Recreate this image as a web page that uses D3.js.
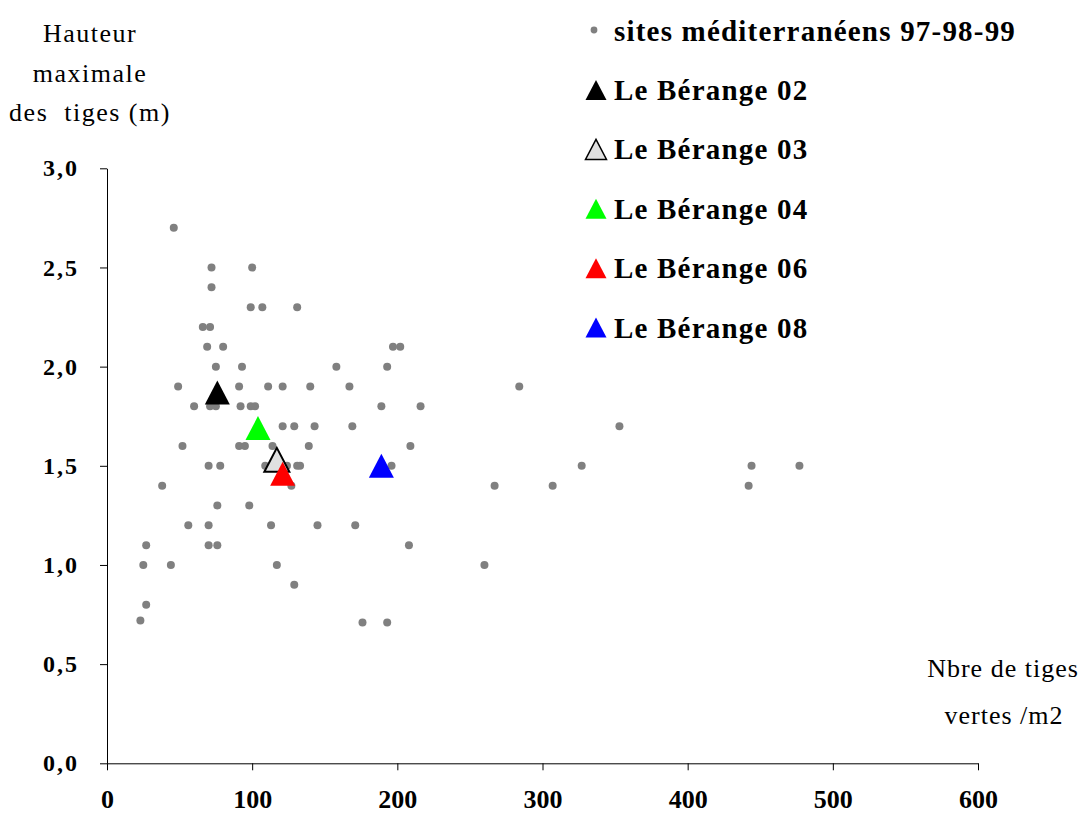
<!DOCTYPE html>
<html>
<head>
<meta charset="utf-8">
<script src="https://cdn.jsdelivr.net/npm/d3@7"></script>
<style>
  body { margin: 0; background: #fff; }
  svg { display: block; font-family: "Liberation Serif", "Times New Roman", serif; }
</style>
</head>
<body>
<svg id="chart" width="1084" height="815"></svg>
<script>
// Mediterranean sites 97-98-99 (stems/m2, max height m)
var sitesX = [46, 72, 100, 72, 99, 107, 131, 66, 71, 69, 80, 197, 202, 75, 93, 158, 193,
  49, 91, 111, 121, 140, 167, 284, 60, 71, 75, 92, 99, 102, 189, 216,
  121, 129, 143, 169, 353, 52, 91, 95, 114, 139, 209,
  70, 78, 109, 124, 131, 133, 196, 327, 444, 477,
  38, 127, 267, 307, 442, 76, 98, 56, 70, 113, 145, 171,
  27, 70, 76, 208, 25, 44, 117, 260, 129, 27, 23, 176, 193];
var sitesY = [2.7, 2.5, 2.5, 2.4, 2.3, 2.3, 2.3, 2.2, 2.2, 2.1, 2.1, 2.1, 2.1, 2.0, 2.0, 2.0, 2.0,
  1.9, 1.9, 1.9, 1.9, 1.9, 1.9, 1.9, 1.8, 1.8, 1.8, 1.8, 1.8, 1.8, 1.8, 1.8,
  1.7, 1.7, 1.7, 1.7, 1.7, 1.6, 1.6, 1.6, 1.6, 1.6, 1.6,
  1.5, 1.5, 1.5, 1.5, 1.5, 1.5, 1.5, 1.5, 1.5, 1.5,
  1.4, 1.4, 1.4, 1.4, 1.4, 1.3, 1.3, 1.2, 1.2, 1.2, 1.2, 1.2,
  1.1, 1.1, 1.1, 1.1, 1.0, 1.0, 1.0, 1.0, 0.9, 0.8, 0.72, 0.71, 0.71];

// Le Bérange series
var berNames = ["Le Bérange 02", "Le Bérange 03", "Le Bérange 04", "Le Bérange 06", "Le Bérange 08"];
var berX = [76, 117, 104, 121, 189];
var berY = [1.87, 1.53, 1.69, 1.46, 1.50];
var berColors = ["#000000", "#e0e0e0", "#00ff00", "#ff0000", "#0000ff"];

var xTicks = [0, 100, 200, 300, 400, 500, 600];
var yTicks = [0, 0.5, 1, 1.5, 2, 2.5, 3];

var svg = d3.select("#chart");

var x = d3.scaleLinear().domain([0, 600]).range([107, 978]);
var y = d3.scaleLinear().domain([0, 3]).range([763.3, 168.3]);

// triangle centred on its bounding box
function tri(cx, cy, w, h) {
  return "M" + cx + "," + (cy - h / 2) +
    "L" + (cx + w / 2) + "," + (cy + h / 2) +
    "L" + (cx - w / 2) + "," + (cy + h / 2) + "Z";
}

// axes
var yAxis = d3.axisLeft(y).tickValues(yTicks).tickSize(7).tickSizeOuter(0).tickPadding(21)
  .tickFormat(function(d) { return d3.format(".1f")(d).replace(".", ","); });
var gy = svg.append("g").attr("transform", "translate(" + x(0) + ",0)").call(yAxis);

var xAxis = d3.axisBottom(x).tickValues(xTicks).tickSize(7).tickSizeOuter(0)
  .tickFormat(d3.format("d"));
var gx = svg.append("g").attr("transform", "translate(0," + y(0) + ")").call(xAxis);

[gx, gy].forEach(function(g) {
  g.selectAll("path, line").attr("stroke", "#000").attr("stroke-width", 1);
  g.selectAll("text").attr("fill", "#000")
    .style("font-family", "'Liberation Serif', serif")
    .style("font-weight", "bold");
});
gx.selectAll("text").attr("dy", null).attr("y", 45).style("font-size", "26px");
gy.selectAll("text").style("font-size", "24px").style("letter-spacing", "2px");

// axis titles
var yTitle = ["Hauteur", "maximale", "des  tiges (m)"];
svg.append("text").attr("text-anchor", "middle").style("font-size", "26px")
  .style("letter-spacing", "1.5px").style("white-space", "pre")
  .selectAll("tspan").data(yTitle).enter().append("tspan")
  .attr("x", 90).attr("y", function(d, i) { return 42 + i * 39.5; })
  .text(function(d) { return d; });

var xTitle = ["Nbre de tiges", "vertes /m2"];
svg.append("text").attr("text-anchor", "middle").style("font-size", "26px")
  .style("letter-spacing", "1px")
  .selectAll("tspan").data(xTitle).enter().append("tspan")
  .attr("x", function(d, i) { return i ? 1004 : 1003; })
  .attr("y", function(d, i) { return 677 + i * 47; })
  .text(function(d) { return d; });

// points
svg.append("g").selectAll("circle").data(sitesX).enter().append("circle")
  .attr("cx", function(d) { return x(d); })
  .attr("cy", function(d, i) { return y(sitesY[i]); })
  .attr("r", 4)
  .attr("fill", "#808080");

svg.append("g").selectAll("path").data(berX).enter().append("path")
  .attr("d", function(d, i) { return tri(x(d), y(berY[i]), 25, 24); })
  .attr("fill", function(d, i) { return berColors[i]; })
  .attr("stroke", function(d, i) { return i == 1 ? "#000" : "none"; })
  .attr("stroke-width", 2);

// legend
var leg = svg.append("g").style("font-size", "29px").style("font-weight", "bold")
  .style("letter-spacing", "1.2px");
leg.append("circle").attr("cx", 594).attr("cy", 30).attr("r", 3.4).attr("fill", "#808080");
leg.append("text").attr("x", 614).attr("y", 40.5).text("sites méditerranéens 97-98-99");

var legItems = leg.selectAll("g.item").data(berNames).enter().append("g").attr("class", "item")
  .attr("transform", function(d, i) { return "translate(0," + (100 + i * 59.4) + ")"; });
legItems.append("path")
  .attr("d", tri(596, -10, 21, 20))
  .attr("fill", function(d, i) { return berColors[i]; })
  .attr("stroke", function(d, i) { return i == 1 ? "#000" : "none"; })
  .attr("stroke-width", 1.5);
legItems.append("text").attr("x", 614).attr("y", 0).text(function(d) { return d; });
</script>
</body>
</html>
